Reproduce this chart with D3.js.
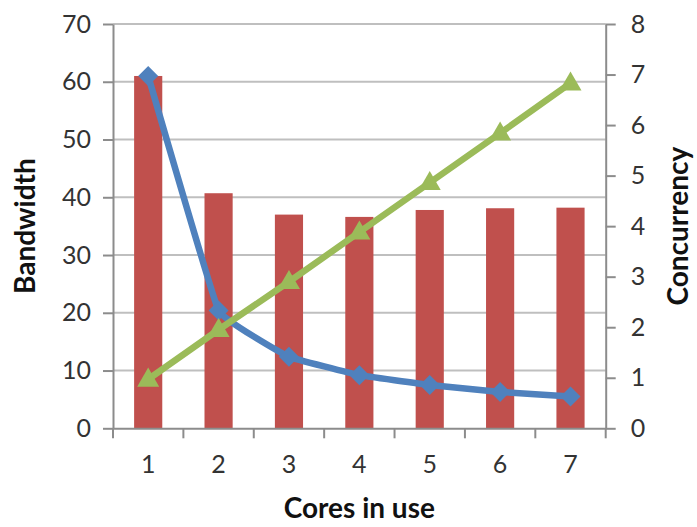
<!DOCTYPE html>
<html><head><meta charset="utf-8">
<script src="https://cdn.jsdelivr.net/npm/d3@7"></script>
<style>
html,body{margin:0;padding:0;background:#fff;}
svg{display:block;font-family:Lato,"Open Sans",sans-serif;}
</style></head>
<body>
<svg id="chart" width="697" height="527"></svg>
<script>
const cores = [1, 2, 3, 4, 5, 6, 7];
const bandwidthBars = [61.0, 40.7, 37.0, 36.6, 37.8, 38.1, 38.2];
const bandwidthLine = [61.0, 20.4, 12.4, 9.2, 7.5, 6.3, 5.5];
const concurrency = [0.97, 1.95, 2.9, 3.88, 4.86, 5.84, 6.83];
const leftTicks = [0, 10, 20, 30, 40, 50, 60, 70];
const rightTicks = [0, 1, 2, 3, 4, 5, 6, 7, 8];

const svg = d3.select("#chart");
const L = 113, R = 605.7, T = 24, B = 428.3;

const x = d3.scaleBand().domain(cores).range([L, R]).padding(0);
const yL = d3.scaleLinear().domain([0, 70]).range([B, T]);
const yR = d3.scaleLinear().domain([0, 8]).range([B, T]);

const gridCol = "#BFBFBF", axisCol = "#8C8C8C", textCol = "#333";

// gridlines
svg.append("g").selectAll("line").data(leftTicks.filter(d => d > 0)).join("line")
  .attr("x1", L).attr("x2", R).attr("y1", d => yL(d)).attr("y2", d => yL(d))
  .attr("stroke", gridCol).attr("stroke-width", 2);

// left axis
const gl = svg.append("g").attr("transform", `translate(${L},0)`)
  .call(d3.axisLeft(yL).tickValues(leftTicks).tickSize(10).tickSizeOuter(0).tickPadding(12));
gl.select(".domain").attr("stroke", axisCol).attr("stroke-width", 2);
gl.selectAll(".tick line").attr("stroke", axisCol).attr("stroke-width", 2);
gl.selectAll(".tick text").attr("font-size", 25).attr("fill", textCol).attr("font-family", "Lato");

// right axis
const gr = svg.append("g").attr("transform", `translate(${R},0)`)
  .call(d3.axisRight(yR).tickValues(rightTicks).tickSize(10).tickSizeOuter(0).tickPadding(15));
gr.select(".domain").attr("stroke", axisCol).attr("stroke-width", 2);
gr.selectAll(".tick line").attr("stroke", axisCol).attr("stroke-width", 2);
gr.selectAll(".tick text").attr("font-size", 25).attr("fill", textCol).attr("font-family", "Lato");

// bars
const bw = x.bandwidth() * 0.4;
svg.append("g").selectAll("rect").data(cores).join("rect")
  .attr("x", (d) => x(d) + x.bandwidth() / 2 - bw / 2)
  .attr("width", bw)
  .attr("y", (d, i) => yL(bandwidthBars[i]))
  .attr("height", (d, i) => B - yL(bandwidthBars[i]))
  .attr("fill", "#C0504D");

// x axis
const gx = svg.append("g").attr("transform", `translate(0,${B})`)
  .call(d3.axisBottom(x).tickSize(0).tickPadding(27));
gx.select(".domain").attr("stroke", axisCol).attr("stroke-width", 2);
gx.selectAll(".tick text").attr("font-size", 25).attr("fill", textCol).attr("font-family", "Lato");
const bounds = cores.map(d => x(d)).concat([R]);
gx.append("g").selectAll("line").data(bounds).join("line")
  .attr("x1", d => d).attr("x2", d => d).attr("y1", 0).attr("y2", 10)
  .attr("stroke", axisCol).attr("stroke-width", 2);

const cx = d => x(d) + x.bandwidth() / 2;

// blue smoothed line
const blueLine = d3.line().x((d, i) => cx(cores[i])).y(d => yL(d)).curve(d3.curveCardinal.tension(0.78));
svg.append("path").attr("d", blueLine(bandwidthLine)).attr("fill", "none")
  .attr("stroke", "#4F81BD").attr("stroke-width", 6.5).attr("stroke-linejoin", "round");
svg.append("g").selectAll("path").data(bandwidthLine).join("path")
  .attr("d", d3.symbol().type(d3.symbolSquare).size(200)())
  .attr("transform", (d, i) => `translate(${cx(cores[i])},${yL(d)}) rotate(45)`)
  .attr("fill", "#4F81BD");

// green line
const greenLine = d3.line().x((d, i) => cx(cores[i])).y(d => yR(d));
svg.append("path").attr("d", greenLine(concurrency)).attr("fill", "none")
  .attr("stroke", "#9BBB59").attr("stroke-width", 6.5).attr("stroke-linejoin", "round");
svg.append("g").selectAll("path").data(concurrency).join("path")
  .attr("d", d3.symbol().type(d3.symbolTriangle).size(210)())
  .attr("transform", (d, i) => `translate(${cx(cores[i])},${yR(d) + 1})`)
  .attr("fill", "#9BBB59");

// titles
svg.append("text").attr("x", (L + R) / 2).attr("y", 518).attr("text-anchor", "middle")
  .attr("font-size", 28).attr("font-weight", "bold").attr("fill", "#111").attr("font-family", "Lato")
  .text("Cores in use");
svg.append("text").attr("transform", `translate(35,${(T + B) / 2}) rotate(-90)`).attr("text-anchor", "middle")
  .attr("font-size", 28).attr("font-weight", "bold").attr("fill", "#111").attr("font-family", "Lato")
  .text("Bandwidth");
svg.append("text").attr("transform", `translate(688,${(T + B) / 2}) rotate(-90)`).attr("text-anchor", "middle")
  .attr("font-size", 28).attr("font-weight", "bold").attr("fill", "#111").attr("font-family", "Lato")
  .text("Concurrency");
</script>
</body></html>
